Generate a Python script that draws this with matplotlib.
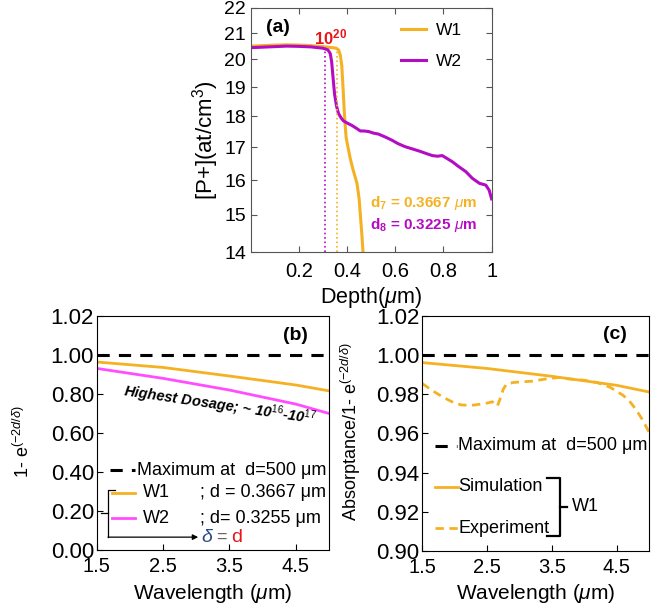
import matplotlib.pyplot as plt
from matplotlib.ticker import FixedLocator, NullLocator

plt.rcParams['font.family'] = ['Liberation Sans', 'DejaVu Sans']
plt.rcParams['mathtext.fontset'] = 'custom'
plt.rcParams['mathtext.rm'] = 'Liberation Sans'
plt.rcParams['mathtext.it'] = 'Liberation Sans:italic'
plt.rcParams['mathtext.bf'] = 'Liberation Sans:bold'

ORANGE = '#F4B223'
PURPLE = '#B30CC4'
PINK = '#FF4DFF'

# (a) doping profiles
depth_w1 = [0.0, 0.05, 0.10, 0.15, 0.20, 0.25, 0.30, 0.34, 0.355, 0.365, 0.372,
            0.378, 0.383, 0.388, 0.392, 0.396, 0.405, 0.413, 0.425, 0.441, 0.450,
            0.455, 0.462, 0.466]
conc_w1 = [20.50, 20.52, 20.54, 20.55, 20.54, 20.52, 20.48, 20.44, 20.42, 20.35, 20.15,
           19.75, 19.0, 18.2, 17.7, 17.3, 16.95, 16.65, 16.3, 15.9, 15.45,
           15.0, 14.4, 14.0]
depth_w2 = [0.0, 0.05, 0.10, 0.15, 0.20, 0.25, 0.30, 0.32, 0.33, 0.336, 0.342,
            0.348, 0.356, 0.364, 0.375, 0.385, 0.40, 0.42, 0.44, 0.455, 0.47,
            0.49, 0.51, 0.53, 0.56, 0.587, 0.61, 0.64, 0.67, 0.70, 0.73, 0.754,
            0.775, 0.795, 0.815, 0.837, 0.86, 0.893, 0.92, 0.95, 0.976, 0.99, 1.0]
conc_w2 = [20.44, 20.46, 20.48, 20.50, 20.49, 20.47, 20.42, 20.36, 20.22, 19.9, 19.3,
           18.75, 18.35, 18.1, 17.95, 17.85, 17.78, 17.7, 17.6, 17.52, 17.52,
           17.5, 17.45, 17.42, 17.32, 17.22, 17.12, 17.02, 16.95, 16.88, 16.8, 16.74,
           16.72, 16.74, 16.65, 16.55, 16.42, 16.25, 16.05, 15.9, 15.85, 15.7, 15.45]
d_w1 = 0.36
d_w2 = 0.309
top_w1 = 20.42
top_w2 = 20.42

# (b) attenuation factor vs wavelength
wl_b = [1.5, 2.5, 3.5, 4.5, 5.0]
att_w1 = [0.966, 0.938, 0.894, 0.848, 0.818]
att_w2 = [0.933, 0.882, 0.822, 0.750, 0.702]
att_max = 1.0

# (c) absorptance, W1
wl_sim = [1.5, 2.5, 3.5, 4.5, 5.0]
sim_w1 = [0.9962, 0.9932, 0.9892, 0.9846, 0.9812]
wl_exp = [1.5, 1.6, 1.7, 1.8, 1.9, 2.0, 2.1, 2.2, 2.3, 2.4, 2.5, 2.58, 2.62, 2.66,
          2.7, 2.75, 2.8, 2.9, 3.0, 3.2, 3.4, 3.6, 3.8, 4.0, 4.2, 4.4, 4.6, 4.7,
          4.8, 4.9, 5.0]
exp_w1 = [0.9855, 0.9832, 0.9810, 0.9790, 0.9772, 0.9755, 0.9746, 0.9744, 0.9745,
          0.9750, 0.9755, 0.9762, 0.9752, 0.9740, 0.9775, 0.9825, 0.9852, 0.9860,
          0.9863, 0.9867, 0.9878, 0.9886, 0.9877, 0.9872, 0.9860, 0.9836, 0.9795,
          0.9765, 0.9722, 0.9670, 0.9607]

fig = plt.figure(figsize=(6.67, 6.12), dpi=100)

# ---------------- panel (a)
ax = fig.add_axes([0.376, 0.588, 0.361, 0.399])
ax.plot(depth_w1, conc_w1, color=ORANGE, lw=2.2, label='W1')
ax.plot(depth_w2, conc_w2, color=PURPLE, lw=2.2, label='W2')
ax.vlines(d_w1, 14, top_w1, colors=ORANGE, linestyles=':', lw=1.2)
ax.vlines(d_w2, 14, top_w2, colors=PURPLE, linestyles=':', lw=1.2)
ax.set_yscale('log')
ax.set_xlim(0, 1)
ax.set_ylim(14, 22)
yt = list(range(14, 23))
ax.yaxis.set_major_locator(FixedLocator(yt))
ax.yaxis.set_minor_locator(NullLocator())
ax.set_yticklabels([str(v) for v in yt])
ax.set_xticks([0.2, 0.4, 0.6, 0.8, 1.0])
ax.set_xticklabels(['0.2', '0.4', '0.6', '0.8', '1'])
ax.tick_params(direction='in', labelsize=14, top=True, right=True, length=4,
               color='#555555')
ax.tick_params(axis='x', labelsize=14.5, pad=7)
for s in ax.spines.values():
    s.set_color('#555555')
ax.set_ylabel('[P+](at/cm$^3$)', fontsize=16)
ax.yaxis.set_label_coords(-0.122, 0.46)
ax.set_xlabel('Depth($\\mu$m)', fontsize=15.5, labelpad=3)
ax.text(0.064, 21.22, '(a)', fontsize=14, fontweight='bold', va='center')
ax.text(0.33, 20.85, '10$^{\\mathbf{20}}$', fontsize=12, fontweight='bold',
        color='#E8151B', ha='center', va='center')
ax.text(0.938, 15.33, 'd$_{\\mathbf{7}}$ = 0.3667 $\\mathit{\\mu}$$\\mathbf{m}$',
        fontsize=11, fontweight='bold', color=ORANGE, ha='right', va='center')
ax.text(0.938, 14.72, 'd$_{\\mathbf{8}}$ = 0.3225 $\\mathit{\\mu}$$\\mathbf{m}$',
        fontsize=11, fontweight='bold', color=PURPLE, ha='right', va='center')
ax.legend(loc='upper left', frameon=False, fontsize=12.5, handlelength=1.4,
          handletextpad=0.6, labelspacing=0.95, borderpad=0, borderaxespad=0,
          bbox_to_anchor=(0.625, 0.94))

# ---------------- panel (b)
ax = fig.add_axes([0.145, 0.101, 0.348, 0.382])
ax.axhline(att_max, color='black', lw=2.2, dashes=(4, 3))
ax.plot(wl_b, att_w1, color=ORANGE, lw=2)
ax.plot(wl_b, att_w2, color=PINK, lw=2)
ax.set_xlim(1.5, 5.0)
ax.set_ylim(0, 1.2)
ax.set_xticks([1.5, 2.5, 3.5, 4.5])
ax.set_yticks([0, 0.2, 0.4, 0.6, 0.8, 1.0, 1.2])
ax.set_yticklabels(['0.00', '0.20', '0.40', '0.60', '0.80', '1.00', '1.02'])
ax.tick_params(direction='in', length=4)
ax.tick_params(axis='y', labelsize=16, pad=2)
ax.tick_params(axis='x', labelsize=14.5, pad=5)
ax.set_xlabel('Wavelength ($\\mathit{\\mu}$m)', fontsize=15, labelpad=4)
ax.set_ylabel('1- e$^{(-2d/\\delta)}$', fontsize=13)
ax.yaxis.set_label_coords(-0.276, 0.466)
ax.text(4.31, 1.10, '(b)', fontsize=14, fontweight='bold', va='center')
ax.text(3.36, 0.745, 'Highest Dosage; ~ 10$^{16}$-10$^{17}$', fontsize=10.5,
        fontweight='bold', style='italic', rotation=-8.4, ha='center', va='center')
ax.plot([1.7, 2.08], [0.41, 0.41], color='black', lw=2.2, dashes=(4, 3))
ax.text(2.1, 0.41, 'Maximum at  d=500 μm', fontsize=13, va='center')
ax.plot([1.73, 2.07], [0.295, 0.295], color=ORANGE, lw=2)
ax.plot([1.73, 2.07], [0.163, 0.163], color=PINK, lw=2)
ax.text(2.19, 0.295, 'W1', fontsize=13, va='center')
ax.text(2.19, 0.163, 'W2', fontsize=13, va='center')
ax.text(3.05, 0.295, '; d = 0.3667 μm', fontsize=13, va='center')
ax.text(3.05, 0.163, '; d= 0.3255 μm', fontsize=13, va='center')
ax.plot([1.77, 1.67, 1.67], [0.308, 0.308, 0.067], color='black', lw=0.9)
ax.plot([1.57, 1.67], [0.19, 0.19], color='black', lw=0.9)
ax.annotate('', xy=(3.03, 0.067), xytext=(1.67, 0.067),
            arrowprops=dict(arrowstyle='-|>', color='black', lw=0.9,
                            mutation_scale=8, shrinkA=0, shrinkB=0))
ax.text(3.08, 0.067, '$\\delta$', fontsize=14, va='center', color='#2B4A8C')
ax.text(3.3, 0.067, '=', fontsize=13, va='center', color='#666666')
ax.text(3.52, 0.067, 'd', fontsize=14, va='center', color='#E8151B')

# ---------------- panel (c)
ax = fig.add_axes([0.633, 0.0997, 0.340, 0.384])
ax.axhline(att_max, color='black', lw=2.2, dashes=(4, 3))
ax.plot(wl_sim, sim_w1, color=ORANGE, lw=2)
ax.plot(wl_exp, exp_w1, color=ORANGE, lw=2, dashes=(3, 2))
ax.set_xlim(1.5, 5.0)
ax.set_ylim(0.90, 1.02)
ax.set_xticks([1.5, 2.5, 3.5, 4.5])
ax.set_yticks([0.90, 0.92, 0.94, 0.96, 0.98, 1.00, 1.02])
ax.yaxis.set_major_formatter(plt.FormatStrFormatter('%.2f'))
ax.tick_params(direction='in', length=4)
ax.tick_params(axis='y', labelsize=16, pad=2)
ax.tick_params(axis='x', labelsize=14.5, pad=5)
ax.set_xlabel('Wavelength ($\\mathit{\\mu}$m)', fontsize=15, labelpad=4)
ax.set_ylabel('Absorptance/1- e$^{(-2d/\\delta)}$', fontsize=13)
ax.yaxis.set_label_coords(-0.26, 0.51)
ax.text(4.29, 1.0103, '(c)', fontsize=14, fontweight='bold', va='center')
ax.plot([1.7, 2.04], [0.9537, 0.9537], color='black', lw=2.2, dashes=(4, 3))
ax.text(2.06, 0.9537, 'Maximum at  d=500 μm', fontsize=13, va='center')
ax.plot([1.7, 2.05], [0.9327, 0.9327], color=ORANGE, lw=2)
ax.text(2.06, 0.9327, 'Simulation', fontsize=13, va='center')
ax.plot([1.7, 2.05], [0.9117, 0.9117], color=ORANGE, lw=2, dashes=(3, 2))
ax.text(2.06, 0.9117, 'Experiment', fontsize=13, va='center')
# curly bracket grouping the two W1 curves
ax.plot([3.43, 3.63, 3.63, 3.43], [0.9373, 0.9373, 0.9077, 0.9077],
        color='black', lw=1.6)
ax.plot([3.63, 3.74], [0.9225, 0.9225], color='black', lw=1.6)
ax.text(3.81, 0.9225, 'W1', fontsize=13, va='center')

fig.savefig('out.png', dpi=100)
